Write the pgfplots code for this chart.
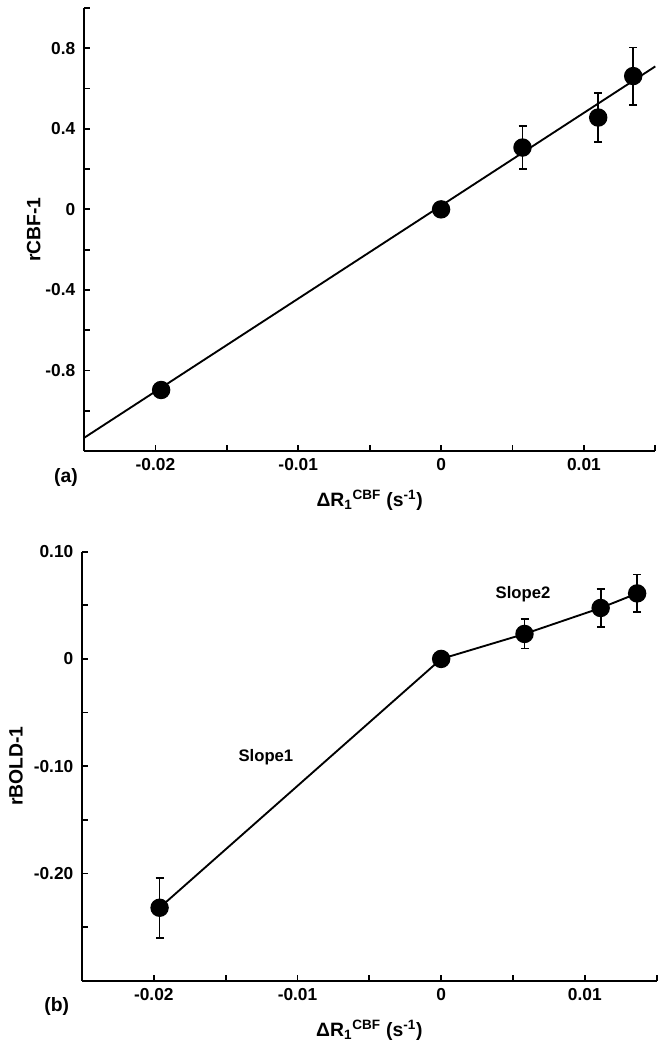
\documentclass[border=0pt]{standalone}
\usepackage{pgfplots}
\pgfplotsset{compat=1.18}
\usepackage{fontspec}
\setmainfont{Liberation Sans}

% 1 px of the reference = 0.75pt
\pgfplotsset{
  panel/.style={
    scale only axis,
    axis x line*=bottom, axis y line*=left,
    axis line style={line width=1.6pt},
    tick align=inside, major tick length=4.5pt,
    tick style={black, line width=1.3pt},
    xmin=-0.025, xmax=0.015, scaled x ticks=false, scaled y ticks=false,
    xtick={-0.025,-0.02,-0.015,-0.01,-0.005,0,0.005,0.01,0.015},
    xticklabels={,-0.02,,-0.01,,0,,0.01,},
    tick label style={font=\bfseries\fontsize{13}{15}\selectfont},
    xticklabel style={yshift=-2pt},
    yticklabel style={xshift=-3pt},
    label style={font=\bfseries\fontsize{14.5}{16}\selectfont},
    xlabel={ΔR\textsubscript{1}\textsuperscript{CBF} (s\textsuperscript{-1})},
    xlabel style={at={(axis description cs:0.5,0)}, anchor=center, yshift=-37pt},
    clip=false,
  },
  dots/.style={black, line width=1.4pt, mark=*, mark size=6.2pt,
    mark options={fill=black},
    error bars/y dir=both, error bars/y explicit,
    error bars/error bar style={line width=1.3pt},
    error bars/error mark options={rotate=90, mark size=3pt, line width=1.3pt}},
}

\begin{document}
\begin{tikzpicture}
\useasboundingbox (0,0) rectangle (499.5pt,-786pt);

% (a)
\begin{axis}[panel,
  at={(63pt,-338.25pt)}, anchor=south west,
  width=428.5pt, height=332.25pt,
  ymin=-1.2, ymax=1.0,
  ytick={-1.2,-1,-0.8,-0.6,-0.4,-0.2,0,0.2,0.4,0.6,0.8,1},
  yticklabels={,,-0.8,,-0.4,,0,,0.4,,0.8,},
  ylabel={rCBF-1},
  ylabel style={at={(axis description cs:-0.088,0.5)}, anchor=center},
]
\addplot[black, line width=1.4pt] coordinates {(-0.025,-1.135) (0.015,0.71)};
\addplot[dots, only marks] coordinates {
  (-0.0196,-0.897) +- (0,0)
  (0,0)            +- (0,0)
  (0.0057,0.307)   +- (0,0.106)
  (0.0110,0.456)   +- (0,0.123)
  (0.01345,0.662)  +- (0,0.142)
};
\node[font=\bfseries\fontsize{14.5}{16}\selectfont] at (axis description cs:-0.0315,-0.060) {(a)};
\end{axis}

% (b)
\begin{axis}[panel,
  at={(61.5pt,-735.5pt)}, anchor=south west,
  width=431pt, height=321.75pt,
  ymin=-0.30, ymax=0.10,
  ytick={-0.3,-0.25,-0.2,-0.15,-0.1,-0.05,0,0.05,0.1},
  yticklabels={,,-0.20,,-0.10,,0,,0.10},
  ylabel={rBOLD-1},
  ylabel style={at={(axis description cs:-0.115,0.5)}, anchor=center},
]
\addplot[dots] coordinates {
  (-0.0196,-0.232) +- (0,0.028)
  (0,0)            +- (0,0)
  (0.0058,0.0233)  +- (0,0.0137)
  (0.0111,0.0475)  +- (0,0.018)
  (0.01364,0.0611) +- (0,0.0176)
};
\node[font=\bfseries\fontsize{12.5}{14}\selectfont] at (axis cs:-0.0122,-0.092) {Slope1};
\node[font=\bfseries\fontsize{12.5}{14}\selectfont] at (axis cs:0.0057,0.0606) {Slope2};
\node[font=\bfseries\fontsize{14.5}{16}\selectfont] at (axis description cs:-0.044,-0.061) {(b)};
\end{axis}
\end{tikzpicture}
\end{document}
